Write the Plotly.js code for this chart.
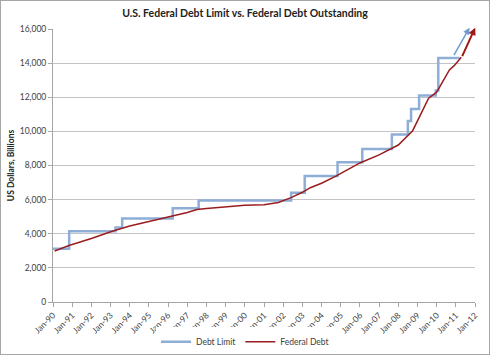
<!DOCTYPE html>
<html><head><meta charset="utf-8">
<script src="https://cdn.plot.ly/plotly-3.0.1.min.js"></script>
<style>html,body{margin:0;padding:0;background:#fff}#frame{position:absolute;left:0;top:0;width:490px;height:355px;box-sizing:border-box;border:1px solid #a6a6a6;pointer-events:none}</style>
</head><body>
<div id="chart" style="width:490px;height:355px;"></div>
<div id="frame"></div>
<script>
var limitDates = ["1990-01-01","1990-11-05","1993-04-06","1993-08-10","1996-03-29","1997-08-05","2002-06-01","2003-02-15","2004-11-01","2006-02-15","2007-09-01","2008-07-01","2008-09-01","2009-02-01","2009-12-15","2010-02-01","2011-03-15"];
var limitValues = [3123,4145,4370,4900,5500,5950,6400,7384,8184,8965,9815,10615,11315,12104,12394,14294,14294];

var debtDates = ["1990-02-01","1990-11-01","1992-01-01","1993-02-01","1994-01-01","1995-01-01","1996-01-01","1997-01-01","1997-07-01","1998-01-01","1999-01-01","2000-01-01","2001-01-01","2001-10-01","2002-06-01","2003-01-01","2003-06-01","2004-01-01","2004-10-01","2005-06-01","2006-01-01","2007-01-01","2007-09-01","2008-01-01","2008-10-01","2009-08-01","2010-01-01","2010-09-01","2010-12-01","2011-04-15"];
var debtValues = [2990,3310,3720,4150,4450,4700,4980,5250,5420,5480,5560,5670,5700,5830,6120,6430,6700,6960,7380,7770,8150,8620,9000,9200,10040,11940,12300,13600,13850,14350];

var arrowBlue = {tail:["2010-11-10",14380], head:["2011-09-20",16080]};
var arrowRed  = {tail:["2011-04-20",14320], head:["2012-01-05",16080]};

var blue = "#8eaed8", red = "#9a1c1f";
var traces = [
  {x:limitDates, y:limitValues, name:"Debt Limit", type:"scatter", mode:"lines", line:{shape:"hv", color:blue, width:2.5}},
  {x:debtDates, y:debtValues, name:"Federal Debt", type:"scatter", mode:"lines", line:{color:red, width:1.5}}
];
var f = "Lato, 'Open Sans', sans-serif";
var layout = {
  width:490, height:355,
  margin:{l:53, r:15, t:29, b:53},
  paper_bgcolor:"#fff", plot_bgcolor:"#fff",
  font:{family:f, size:8.5, color:"#404040"},
  title:{text:"<b>U.S. Federal Debt Limit vs. Federal Debt Outstanding</b>", font:{family:f, size:10.5, color:"#222"}, x:0.5, xanchor:"center", y:0.962, yanchor:"middle"},
  xaxis:{type:"date", range:["1990-01-01","2012-01-01"], dtick:"M12", tick0:"1990-01-01", tickformat:"%b-%y", tickangle:-45, automargin:false,
         showgrid:false, showline:true, linecolor:"#a6a6a6", ticks:"outside", ticklen:4, tickcolor:"#a6a6a6", zeroline:false, tickfont:{size:8.5}},
  yaxis:{range:[0,16000], dtick:2000, tickformat:",d", showgrid:true, gridcolor:"#c4c4c4", gridwidth:1, showline:true, linecolor:"#a6a6a6", automargin:false,
         ticks:"outside", ticklen:4, tickcolor:"#a6a6a6", zeroline:false, tickfont:{size:8.5},
         title:{text:"<b>US Dollars, Billions</b>", font:{family:f, size:8.5, color:"#222"}, standoff:3}},
  legend:{orientation:"h", x:0.5, xanchor:"center", xref:"container", y:0.037, yanchor:"middle", yref:"container", font:{size:8.5, color:"#404040"}},
  annotations:[
    {x:arrowBlue.head[0], y:arrowBlue.head[1], ax:arrowBlue.tail[0], ay:arrowBlue.tail[1], xref:"x", yref:"y", axref:"x", ayref:"y",
     text:"", showarrow:true, arrowhead:2, arrowsize:0.9, arrowwidth:1.5, arrowcolor:"#6f9bd0"},
    {x:arrowRed.head[0], y:arrowRed.head[1], ax:arrowRed.tail[0], ay:arrowRed.tail[1], xref:"x", yref:"y", axref:"x", ayref:"y",
     text:"", showarrow:true, arrowhead:2, arrowsize:0.75, arrowwidth:2, arrowcolor:"#a01818"}
  ]
};
Plotly.newPlot("chart", traces, layout, {displayModeBar:false, staticPlot:true});
</script>
</body></html>
